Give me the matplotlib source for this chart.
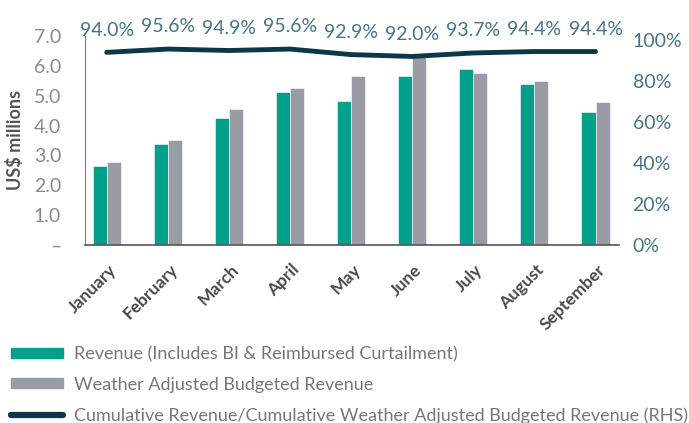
import numpy as np
import matplotlib
matplotlib.use('Agg')
import matplotlib.pyplot as plt
import matplotlib.transforms as mtransforms
from matplotlib.lines import Line2D
from matplotlib.patches import Patch

plt.rcParams['font.family'] = ['Lato', 'DejaVu Sans']

months = ['January', 'February', 'March', 'April', 'May', 'June',
          'July', 'August', 'September']
revenue = [2.63, 3.37, 4.24, 5.12, 4.81, 5.66, 5.89, 5.39, 4.44]
budget = [2.79, 3.50, 4.55, 5.25, 5.66, 6.33, 5.76, 5.49, 4.78]
ratio = [0.940, 0.956, 0.949, 0.956, 0.929, 0.920, 0.937, 0.944, 0.944]
ytick_labels = ['–', '1.0', '2.0', '3.0', '4.0', '5.0', '6.0', '7.0']

green = '#00A08B'
grey = '#999CA4'
navy = '#0B3748'
pct_col = '#4A7382'

fig = plt.figure(figsize=(6.89, 4.23), dpi=100)
ax = fig.add_axes([0.123, 0.421, 0.775, 0.494])
x = np.arange(len(months))
w = 0.23
ax.bar(x - w / 2, revenue, w, color=green, edgecolor='white', linewidth=0.4)
ax.bar(x + w / 2, budget, w, color=grey, edgecolor='white', linewidth=0.4)
ax.set_xlim(-0.36, 8.38)
ax.set_ylim(0, 7)
ax.set_yticks(range(8))
ax.set_yticklabels(ytick_labels, fontsize=14, color='#8a8a8a')
ax.set_xticks(x)
ax.set_xticklabels(months, rotation=45, ha='right', rotation_mode='anchor',
                   fontsize=12.5, fontweight='bold', color='#4a4a4a')
ax.tick_params(axis='y', length=0, pad=17)
ax.tick_params(axis='x', length=0, pad=12)
shift = mtransforms.ScaledTranslation(1 / 72, 0, fig.dpi_scale_trans)
for lab in ax.get_xticklabels():
    lab.set_transform(lab.get_transform() + shift)
ax.set_ylabel('US$ millions', fontsize=13, fontweight='bold', color='#555555', labelpad=7)
for s in ['top', 'right']:
    ax.spines[s].set_visible(False)
ax.spines['left'].set_color('#7f7f7f')
ax.spines['left'].set_linewidth(0.8)
ax.spines['bottom'].set_color('#555555')
ax.spines['bottom'].set_linewidth(1.2)

ax2 = ax.twinx()
ax2.plot(x, ratio, color=navy, linewidth=3.5, solid_capstyle='round')
ax2.set_ylim(0, 1.02)
ax2.set_yticks(np.arange(0, 1.01, 0.2))
ax2.set_yticklabels([f'{int(round(v * 100))}%' for v in np.arange(0, 1.01, 0.2)],
                    fontsize=14, color=pct_col)
ax2.tick_params(length=0, pad=10)
for s in ['top', 'right', 'left', 'bottom']:
    ax2.spines[s].set_visible(False)
for xi, r in zip(x, ratio):
    ax2.annotate(f'{r * 100:.1f}%', (xi, r), xytext=(0, 16), textcoords='offset points',
                 ha='center', va='center', fontsize=14, color=pct_col,
                 annotation_clip=False)

handles = [Patch(color=green), Patch(color=grey),
           Line2D([0], [0], color=navy, linewidth=4.5, solid_capstyle='round')]
labels = ['Revenue (Includes BI & Reimbursed Curtailment)',
          'Weather Adjusted Budgeted Revenue',
          'Cumulative Revenue/Cumulative Weather Adjusted Budgeted Revenue (RHS)']
fig.legend(handles, labels, loc='upper left', bbox_to_anchor=(11 / 689, 1 - 346 / 423),
           frameon=False, labelcolor='#767676', handlelength=2.9, handleheight=0.5,
           handletextpad=0.6, labelspacing=0.8, borderaxespad=0, borderpad=0,
           prop={'size': 13})

fig.savefig('out.png', dpi=100)
